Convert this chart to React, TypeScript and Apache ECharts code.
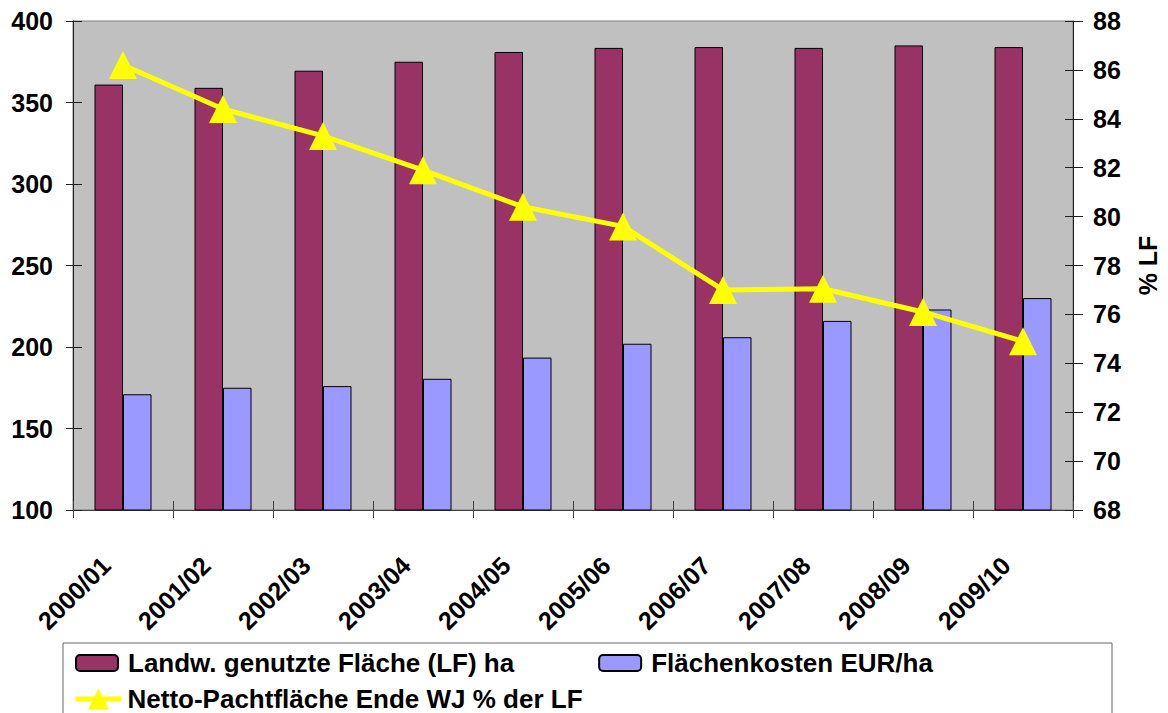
import React, { useEffect, useRef } from "react";
import * as echarts from "echarts";

const categories = ["2000/01", "2001/02", "2002/03", "2003/04", "2004/05", "2005/06", "2006/07", "2007/08", "2008/09", "2009/10"];
const lfHa = [361, 359, 369.5, 375, 381, 383.5, 384, 383.5, 385, 384];
const costPerHa = [171, 175, 176, 180.5, 193.5, 202, 206, 216, 223, 230];
const pachtPct = [86.2, 84.4, 83.3, 81.9, 80.4, 79.6, 77.0, 77.05, 76.1, 74.9];

const seriesNames = ["Landw. genutzte Fläche (LF) ha", "Flächenkosten EUR/ha", "Netto-Pachtfläche Ende WJ % der LF"];
const rightAxisName = "% LF";

const FONT = "'Liberation Sans', Arial, sans-serif";

export default function App() {
  const ref = useRef<HTMLDivElement>(null);
  useEffect(() => {
    if (!ref.current) return;
    const chart = echarts.init(ref.current, null, { renderer: "svg" });
    const axisText = { fontFamily: FONT, fontWeight: "bold", fontSize: 25, color: "#000" };
    const legendText = { fontFamily: FONT, fontWeight: "bold", fontSize: 26, color: "#000", lineHeight: 28 };
    chart.setOption({
      animation: false,
      grid: {
        left: 73,
        right: 92,
        top: 21,
        bottom: 203,
        show: true,
        backgroundColor: "#C0C0C0",
        borderColor: "#808080",
        borderWidth: 1,
      },
      graphic: [
        {
          type: "rect",
          shape: { x: 63, y: 643, width: 1049, height: 100 },
          style: { fill: "#fff", stroke: "#666", lineWidth: 1 },
          z: -1,
        },
      ],
      legend: [
        {
          data: [seriesNames[0], seriesNames[1]],
          left: 75,
          top: 649,
          padding: 0,
          itemWidth: 42,
          itemHeight: 16,
          itemGap: 84,
          textStyle: { ...legendText, padding: [0, 0, 0, 5] },
        },
        {
          data: [seriesNames[2]],
          left: 73,
          top: 685,
          padding: 0,
          itemWidth: 46,
          itemHeight: 26,
          lineStyle: { width: 5, color: "#FFFF00" },
          textStyle: { ...legendText, padding: [0, 0, 0, 1] },
        },
      ],
      xAxis: [
        {
          type: "category",
          data: categories,
          boundaryGap: true,
          axisLine: { lineStyle: { color: "#404040", width: 1 } },
          axisTick: { show: true, length: 8, lineStyle: { color: "#404040" } },
          axisLabel: { ...axisText, rotate: 45, margin: 34, interval: 0, padding: [0, 24, 0, 0] },
          splitLine: { show: false },
        },
        {
          type: "category",
          data: categories,
          position: "bottom",
          boundaryGap: true,
          axisLine: { show: false },
          axisTick: { show: true, inside: true, length: 9, lineStyle: { color: "#404040" } },
          axisLabel: { show: false },
          splitLine: { show: false },
        },
      ],
      yAxis: [
        {
          type: "value",
          min: 100,
          max: 400,
          interval: 50,
          position: "left",
          axisLine: { show: true, lineStyle: { color: "#202020" } },
          axisTick: { show: true, length: 7, lineStyle: { color: "#202020" } },
          axisLabel: { ...axisText, margin: 20 },
          splitLine: { show: false },
        },
        {
          type: "value",
          min: 68,
          max: 88,
          interval: 2,
          position: "right",
          name: rightAxisName,
          nameLocation: "middle",
          nameRotate: 90,
          nameGap: 62,
          nameTextStyle: axisText,
          axisLine: { show: true, lineStyle: { color: "#202020" } },
          axisTick: { show: true, length: 10, lineStyle: { color: "#202020" } },
          axisLabel: { ...axisText, margin: 20 },
          splitLine: { show: false },
        },
        {
          type: "value",
          min: 100,
          max: 400,
          interval: 50,
          position: "left",
          axisLine: { show: false },
          axisTick: { show: true, inside: true, length: 9, lineStyle: { color: "#202020" } },
          axisLabel: { show: false },
          splitLine: { show: false },
        },
        {
          type: "value",
          min: 68,
          max: 88,
          interval: 2,
          position: "right",
          axisLine: { show: false },
          axisTick: { show: true, inside: true, length: 8, lineStyle: { color: "#202020" } },
          axisLabel: { show: false },
          splitLine: { show: false },
        },
      ],
      series: [
        {
          name: seriesNames[0],
          type: "bar",
          data: lfHa,
          xAxisIndex: 0,
          yAxisIndex: 0,
          barGap: "0%",
          barCategoryGap: "43%",
          itemStyle: { color: "#993366", borderColor: "#000", borderWidth: 1 },
        },
        {
          name: seriesNames[1],
          type: "bar",
          data: costPerHa,
          xAxisIndex: 0,
          yAxisIndex: 0,
          barGap: "0%",
          barCategoryGap: "43%",
          itemStyle: { color: "#9999FF", borderColor: "#000", borderWidth: 1 },
        },
        {
          name: seriesNames[2],
          type: "line",
          data: pachtPct,
          xAxisIndex: 0,
          yAxisIndex: 1,
          symbol: "triangle",
          symbolSize: 28,
          showAllSymbol: true,
          lineStyle: { color: "#FFFF00", width: 5 },
          itemStyle: { color: "#FFFF00", borderWidth: 0 },
          z: 5,
        },
      ],
    });
    return () => chart.dispose();
  }, []);
  return <div ref={ref} style={{ position: "fixed", left: 0, top: 0, width: 1168, height: 713, background: "#fff" }} />;
}
